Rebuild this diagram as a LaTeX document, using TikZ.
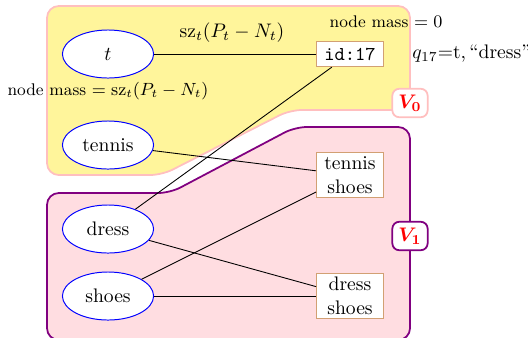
\documentclass[tikz,border=0pt]{standalone}
\usetikzlibrary{shapes.geometric}
\definecolor{regyellow}{RGB}{255,245,155}
\definecolor{regpink}{RGB}{255,221,225}
\definecolor{boxbrown}{RGB}{210,160,115}
\begin{document}
\begin{tikzpicture}[x=0.51pt,y=-0.51pt,
  word/.style={ellipse,draw=blue,fill=white,minimum width=46.5pt,minimum height=24.5pt,inner sep=0pt,line width=0.5pt},
  doc/.style={draw=boxbrown,fill=white,align=center,minimum width=34pt,inner sep=2pt,line width=0.6pt},
  region/.style={rounded corners=6pt,line width=0.9pt},
  vlabel/.style={fill=white,rounded corners=3.5pt,line width=0.9pt,text=red,inner sep=2.5pt,font=\boldmath,minimum width=18pt,minimum height=14.5pt},
  masstext/.style={font=\fontsize{8.6}{10}\selectfont},
  edge/.style={draw,line width=0.45pt}]
\useasboundingbox (0,0) rectangle (528,337);
% regions
\draw[region,fill=regyellow,draw=pink] (47,6) -- (410,6) -- (410,110) -- (290,110) -- (162,175) -- (47,175) -- cycle;
\draw[region,fill=regpink,draw=violet] (47,193) -- (170,193) -- (295,127) -- (410,127) -- (410,340) -- (47,340) -- cycle;
% nodes
\node[word] (t) at (108,54) {$t$};
\node[word] (tennis) at (108,145) {tennis};
\node[word] (dress) at (108,229) {dress};
\node[word] (shoes) at (108,296) {shoes};
\node[doc,minimum height=12.8pt] (id17) at (350,54) {\texttt{id:17}};
\node[doc] (tshoes) at (350,175) {tennis\\shoes};
\node[doc] (dshoes) at (350,296) {dress\\shoes};
% edges
\draw[edge] (t) -- (id17);
\draw[edge] (dress) -- (id17);
\draw[edge] (tennis) -- (tshoes);
\draw[edge] (shoes) -- (tshoes);
\draw[edge] (dress) -- (dshoes);
\draw[edge] (shoes) -- (dshoes);
% labels
\node (szlabel) at (232,33) {$\mathrm{sz}_t(P_t-N_t)$};
\node[masstext] (mass0) at (386,22) {node mass $=0$};
\node[masstext] (massT) at (108,91) {node mass $=\mathrm{sz}_t(P_t-N_t)$};
\node[anchor=west,inner sep=0pt] (q17) at (412,54) {$q_{17}$=t,\,``dress''};
\node[vlabel,draw=pink] (V0) at (410,103) {$V_0$};
\node[vlabel,draw=violet] (V1) at (410,236) {$V_1$};
\end{tikzpicture}
\end{document}
